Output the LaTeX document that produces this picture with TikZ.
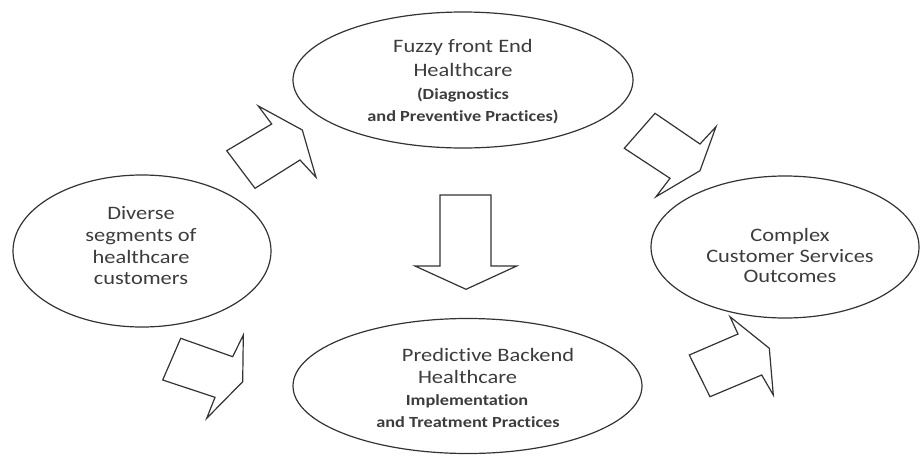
\documentclass[tikz,border=0pt]{standalone}
\usepackage{fontspec}
\setmainfont{Carlito}[FakeStretch=1.18, Ligatures={NoCommon}]
\usetikzlibrary{shapes.geometric}
\definecolor{linec}{HTML}{333333}
\definecolor{textc}{HTML}{3C3C3C}
\tikzset{
  oval/.style={ellipse, draw=linec, line width=1.2pt, inner sep=0pt},
  blockarrow/.style={draw=linec, line width=1.2pt, line join=miter, fill=white},
  reg/.style={anchor=base, text=textc, inner sep=0pt, font=\fontsize{19}{22}\selectfont},
  bld/.style={anchor=base, text=textc, inner sep=0pt, font=\fontsize{15.5}{18}\selectfont\bfseries},
}
\begin{document}
\begin{tikzpicture}[x=1pt,y=-1pt]
\useasboundingbox (0,0) rectangle (920,455);
% ellipses
\node[oval, minimum width=340pt, minimum height=136pt] (top) at (463,80) {};
\node[oval, minimum width=258pt, minimum height=152pt] (left) at (142,251) {};
\node[oval, minimum width=268pt, minimum height=142pt] (right) at (785,247) {};
\node[oval, minimum width=349pt, minimum height=135pt] (bottom) at (467.5,386) {};
% texts top
\node[reg] (t1) at (463,52.5) {Fuzzy front End};
\node[reg] (t2) at (463,76.5) {Healthcare};
\node[bld] (t3) at (463,99) {(Diagnostics};
\node[bld] (t4) at (463,121) {and Preventive Practices)};
% texts left
\node[reg] (l1) at (141,219.5) {Diverse};
\node[reg] (l2) at (141,241.5) {segments of};
\node[reg] (l3) at (141,263.5) {healthcare};
\node[reg] (l4) at (141,284.5) {customers};
% texts right
\node[reg] (r1) at (790,241.5) {Complex};
\node[reg] (r2) at (790,262.5) {Customer Services};
\node[reg] (r3) at (790,282.5) {Outcomes};
% texts bottom
\node[reg] (b1) at (488,361) {Predictive Backend};
\node[reg] (b2) at (467.5,383) {Healthcare};
\node[bld] (b3) at (467,405) {Implementation};
\node[bld] (b4) at (468,427) {and Treatment Practices};
% block arrows
\draw[blockarrow] (226.7,150.7) -- (271.7,124) -- (258.3,106) -- (302.3,130) -- (316,177.3) -- (300,160) -- (255,188.3) -- cycle;
\draw[blockarrow] (180.7,338.3) -- (232.7,356.7) -- (243.3,335) -- (242.7,381.7) -- (206.7,418.3) -- (215,397.3) -- (162.7,380) -- cycle;
\draw[blockarrow] (440,195) -- (491,195) -- (491,266) -- (516.7,266) -- (466,289.3) -- (415,266) -- (440,266) -- cycle;
\draw[blockarrow] (655,113.3) -- (700,144) -- (716,126.7) -- (700,170.7) -- (656,196.7) -- (670,178.3) -- (624.3,148.3) -- cycle;
\draw[blockarrow] (689.3,355) -- (738,334) -- (730,316.7) -- (769.3,348.3) -- (773.3,395) -- (761.7,375) -- (710,396.7) -- cycle;
\end{tikzpicture}
\end{document}
